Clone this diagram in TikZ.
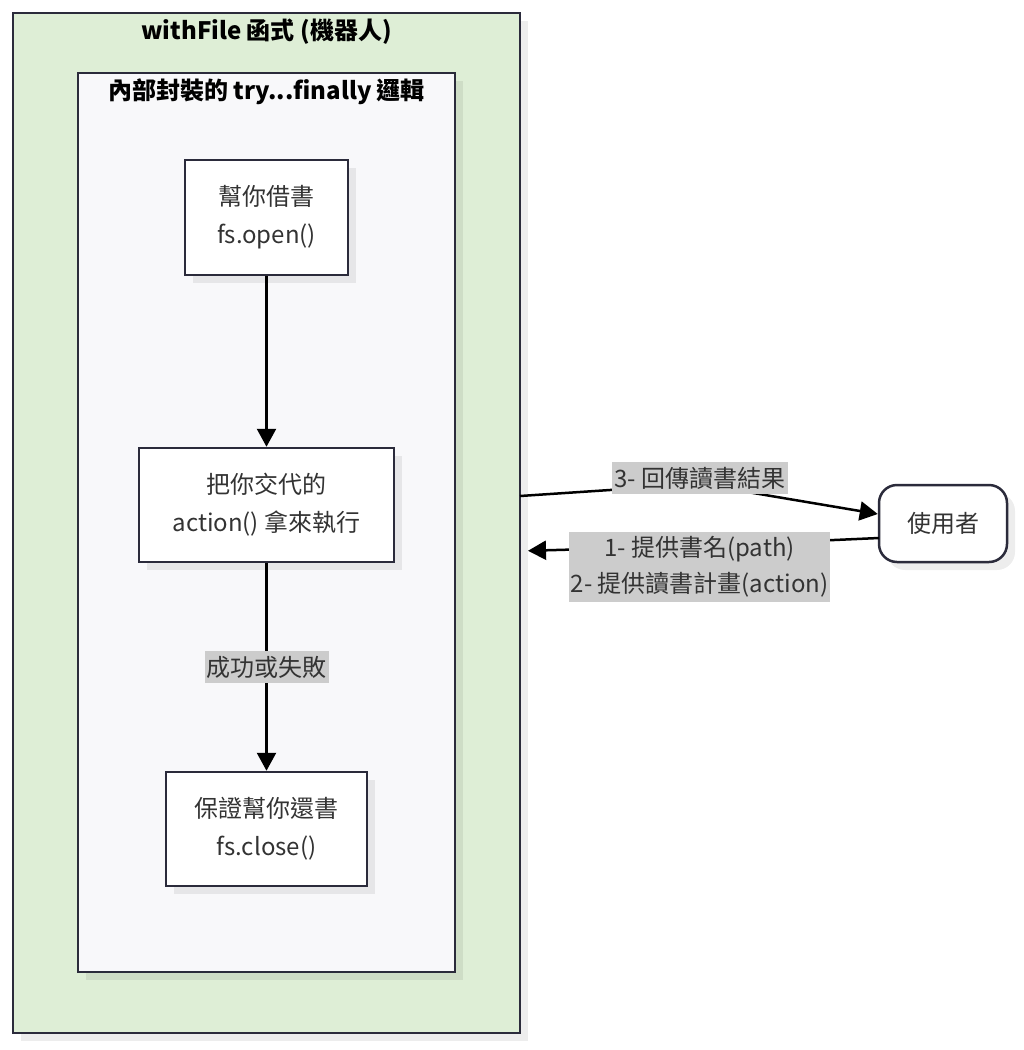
\documentclass[tikz,border=0pt]{standalone}
\usepackage{fontspec}
\setmainfont{Noto Sans CJK TC}
\usetikzlibrary{arrows.meta,shadows}
\definecolor{robotgreen}{RGB}{222,238,214}
\definecolor{innergray}{RGB}{248,248,250}
\definecolor{edgegray}{RGB}{43,43,59}
\definecolor{labelgray}{RGB}{204,204,204}
\definecolor{txt}{RGB}{51,51,51}
\tikzset{
  boxshadow/.style={drop shadow={shadow xshift=8pt,shadow yshift=-8pt,fill=black,opacity=0.07}},
  stepbox/.style={draw=edgegray,line width=2.5pt,fill=white,boxshadow,align=center,text=txt,
    font=\fontsize{24}{38}\selectfont,inner sep=0pt},
  flowlabel/.style={fill=labelgray,text=txt,align=center,inner xsep=2pt,inner ysep=5pt,font=\fontsize{24}{36}\selectfont},
  flowarrow/.style={line width=2.5pt,-{Triangle[length=18pt,width=19pt]}}
}
\begin{document}
\begin{tikzpicture}[x=1pt,y=-1pt]
	\useasboundingbox (0,0) rectangle (1024,1050);
	% Contenedores
	\node[draw=edgegray,line width=2.5pt,fill=robotgreen,boxshadow,minimum width=507pt,minimum height=1020pt] (robot) at (266.5,523) {};
	\node[draw=edgegray,line width=2.5pt,fill=innergray,boxshadow,minimum width=377pt,minimum height=899pt] (inner) at (266.5,522.5) {};
	\node[font=\fontsize{24}{26}\bfseries\selectfont] (robottitle) at (266.5,32) {withFile 函式 (機器人)};
	\node[font=\fontsize{24}{26}\bfseries\selectfont] (innertitle) at (266.5,92) {內部封裝的 try...finally 邏輯};
	
	% Pasos
	\node[stepbox,minimum width=163pt,minimum height=115pt] (open) at (266.5,217.5) {幫你借書\\fs.open()};
	\node[stepbox,minimum width=255pt,minimum height=114pt] (action) at (266.5,505) {把你交代的\\action() 拿來執行};
	\node[stepbox,minimum width=201pt,minimum height=114pt] (close) at (266.5,829) {保證幫你還書\\fs.close()};
	\node[stepbox,rounded corners=18pt,minimum width=128pt,minimum height=77pt] (user) at (943,523.5) {使用者};
	
	\draw[flowarrow] (open) -- (action);
	\draw[flowarrow] (action) -- node[flowlabel] (fatelabel) {成功或失敗} (close);
	
	% Usuario <-> robot
	\coordinate (robotout) at (520,496);
	\coordinate (robotin) at (520,551);
	\coordinate (userin) at (879,538);
	\draw[flowarrow] (robotout) -- (700,484) -- (user.west |- 0,514);
	\node[flowlabel] (resultlabel) at (700,478) {3- 回傳讀書結果};
	\draw[flowarrow,shorten >=8pt] (userin) -- (700,546) -- (robotin);
	\node[flowlabel] (planlabel) at (699.5,567) {1- 提供書名(path)\\2- 提供讀書計畫(action)};
\end{tikzpicture}
\end{document}
